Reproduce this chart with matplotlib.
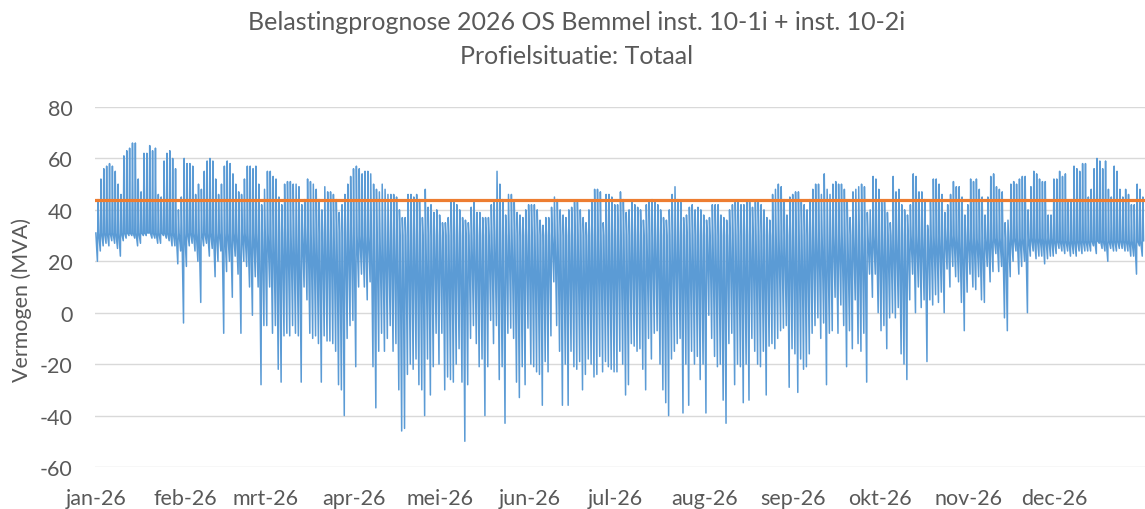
import numpy as np
import matplotlib
matplotlib.use("Agg")
import matplotlib.pyplot as plt

plt.rcParams["axes.unicode_minus"] = False

# ---------------- data ----------------
title_line1 = "Belastingprognose 2026 OS Bemmel inst. 10-1i + inst. 10-2i"
title_line2 = "Profielsituatie: Totaal"
y_label = "Vermogen (MVA)"
month_labels = ["jan-26", "feb-26", "mrt-26", "apr-26", "mei-26", "jun-26",
                "jul-26", "aug-26", "sep-26", "okt-26", "nov-26", "dec-26"]
month_days = [31, 28, 31, 30, 31, 30, 31, 31, 30, 31, 30, 31]
y_ticks = [80, 60, 40, 20, 0, -20, -40, -60]
limit_mva = 44  # orange capacity line

# nightly base load per month (MVA)
night_base = [31, 31, 31, 30, 30, 30, 30, 30, 30, 30, 29, 28]

# daily peak (MVA) per month
peak_jan = [44,52,56,57,58,57,55,50,46,61,63,64,66,66,52,47,62,62,65,63,64,46,45,59,62,63,60,56,40,45,60]
peak_feb = [58,58,57,46,50,48,55,59,60,59,52,46,50,57,59,58,54,50,47,46,52,57,57,56,57,50,42,48]
peak_mar = [55,55,53,52,45,42,50,51,51,50,50,49,42,44,52,51,50,48,44,40,49,47,47,46,44,39,42,46,50,53,56]
peak_apr = [57,56,54,55,55,54,50,48,47,50,48,46,46,46,45,40,37,37,46,46,45,46,44,37,48,41,42,39,40,38]
peak_may = [35,35,37,43,43,42,40,37,36,35,41,43,39,39,37,37,37,42,43,55,50,44,38,46,46,43,39,38,37,40,42]
peak_jun = [42,42,40,36,34,37,37,41,45,44,40,38,37,40,41,43,43,40,37,35,40,43,48,48,47,35,46,46,45,42]
peak_jul = [42,47,44,39,40,43,42,41,40,36,42,43,44,43,42,40,37,36,40,46,49,44,43,37,38,41,42,40,41,40,38]
peak_aug = [36,37,42,42,42,38,37,36,40,42,43,43,42,42,43,43,41,43,43,42,40,37,36,46,48,50,49,44,38,45,46]
peak_sep = [47,47,43,42,40,44,48,50,50,46,54,48,46,50,51,50,50,48,43,37,47,48,49,50,49,39,40,53,52,48]
peak_oct = [43,43,39,35,53,47,48,42,40,38,42,54,53,47,47,44,34,43,52,52,50,46,39,42,46,51,49,49,45,38,42]
peak_nov = [52,51,52,48,45,38,45,53,54,49,48,47,35,36,50,51,50,52,53,53,40,49,55,54,52,51,51,38,38,52]
peak_dec = [52,55,53,54,43,44,57,56,55,58,58,45,48,56,60,59,56,59,48,45,57,55,48,45,48,46,42,42,50,48,45]

# daily minimum (MVA, negative = solar feed-in) per month
dip_jan = [20,24,26,27,26,28,27,25,22,28,29,30,30,29,26,27,30,30,31,29,29,27,27,30,29,28,26,26,19,24,-4]
dip_feb = [18,26,27,24,20,4,26,27,22,25,14,20,24,-8,16,20,6,22,15,-8,20,18,10,-1,14,10,-28,-5]
dip_mar = [-5,10,-8,-5,-22,-27,-9,-8,-9,-5,-8,-9,-27,10,5,-8,-10,-9,-12,-27,-9,-11,-11,-12,-15,-28,-30,-40,-10,-5,-3]
dip_apr = [-21,10,15,10,5,12,-21,-37,-15,-8,-15,-10,-5,-15,-12,-30,-46,-45,-24,-20,-22,-18,-28,-30,-40,-18,-32,-21,-8,-20]
dip_may = [-8,-30,-25,-26,-27,-20,-14,-27,-50,-28,-10,-5,-12,-21,-18,-40,-21,-3,-12,-5,-26,-21,-43,-8,-6,-10,-27,-33,-21,-28,-6]
dip_jun = [-20,-21,-23,-24,-36,-19,-23,-9,12,-5,-15,-36,-20,-36,-15,-21,-22,-19,-30,-24,-18,-20,-25,-24,-17,-23,-19,-21,-22,-23]
dip_jul = [-23,-15,-20,-32,-28,-12,-13,-15,-14,-22,-30,-10,-18,-8,-7,-20,-30,-35,-40,-18,-15,-12,-10,-39,-20,-36,-15,-20,-17,-26,-20]
dip_aug = [-39,-1,-10,-17,-21,-20,-34,-43,-12,-8,-28,-20,-21,-35,-20,-34,-10,-15,-20,-21,-15,-32,-13,-12,-14,-10,-7,-6,-5,-29,-14]
dip_sep = [-16,-31,-18,-22,-21,-16,-8,-5,-2,-10,-4,-28,-8,-7,6,-8,3,-5,-21,-7,-14,5,-12,-15,-8,-27,15,6,15,0]
dip_oct = [-7,-5,-14,-2,0,-2,2,-16,-20,-26,5,15,0,10,2,5,-19,5,3,7,4,8,0,17,10,18,14,12,4,-7,8]
dip_nov = [15,10,9,14,5,4,18,12,16,23,16,18,-2,-7,14,20,24,15,18,20,0,22,24,21,22,22,19,21,22,22]
dip_dec = [23,25,24,23,24,22,23,22,24,23,24,24,24,26,23,27,25,24,20,25,24,24,25,25,24,24,22,22,15,26,22]

peaks = [peak_jan, peak_feb, peak_mar, peak_apr, peak_may, peak_jun,
         peak_jul, peak_aug, peak_sep, peak_oct, peak_nov, peak_dec]
dips = [dip_jan, dip_feb, dip_mar, dip_apr, dip_may, dip_jun,
        dip_jul, dip_aug, dip_sep, dip_oct, dip_nov, dip_dec]

# ---------------- build the series: night, midday dip, evening peak ----------------
times, values = [], []
day = 0
for m in range(12):
    for k in range(month_days[m]):
        times += [day + 0.0, day + 0.54, day + 0.76]
        values += [night_base[m], dips[m][k], peaks[m][k]]
        day += 1
times.append(day)
values.append(night_base[-1])
times = np.array(times)
values = np.array(values)

month_starts = np.concatenate([[0], np.cumsum(month_days)[:-1]])

# ---------------- plot ----------------
FONT = "Lato"
TXT = "#595959"
fig = plt.figure(figsize=(11.45, 5.10), dpi=100)
ax = fig.add_axes([95 / 1145, 1 - 468 / 510, 1050 / 1145, 360 / 510])

ax.plot(times, values, color="#5B9BD5", lw=1.1, zorder=2)
ax.axhline(limit_mva, color="#ED7D31", lw=2.3, zorder=3)

ax.set_ylim(-60, 80)
ax.set_xlim(-0.3, 365.5)
ax.set_yticks(y_ticks)
ax.set_xticks(month_starts)
ax.set_xticklabels(month_labels)
ax.grid(axis="y", color="#D9D9D9", lw=1.0, zorder=0)
ax.grid(axis="x", visible=False)
for s in ax.spines.values():
    s.set_visible(False)
ax.tick_params(axis="both", length=0, colors=TXT, labelsize=15.5)
ax.tick_params(axis="x", pad=15)
ax.tick_params(axis="y", pad=16)
for lab in ax.get_xticklabels() + ax.get_yticklabels():
    lab.set_fontfamily(FONT)

fig.text(22 / 1145, 1 - 300 / 510, y_label, rotation=90, ha="center", va="center",
         fontsize=15.5, color=TXT, family=FONT)
fig.text(577 / 1145, 1 - 23 / 510, title_line1, ha="center", va="center",
         fontsize=18, color=TXT, family=FONT)
fig.text(577 / 1145, 1 - 57 / 510, title_line2, ha="center", va="center",
         fontsize=18, color=TXT, family=FONT)

fig.savefig("out.png", dpi=100, facecolor="white")
